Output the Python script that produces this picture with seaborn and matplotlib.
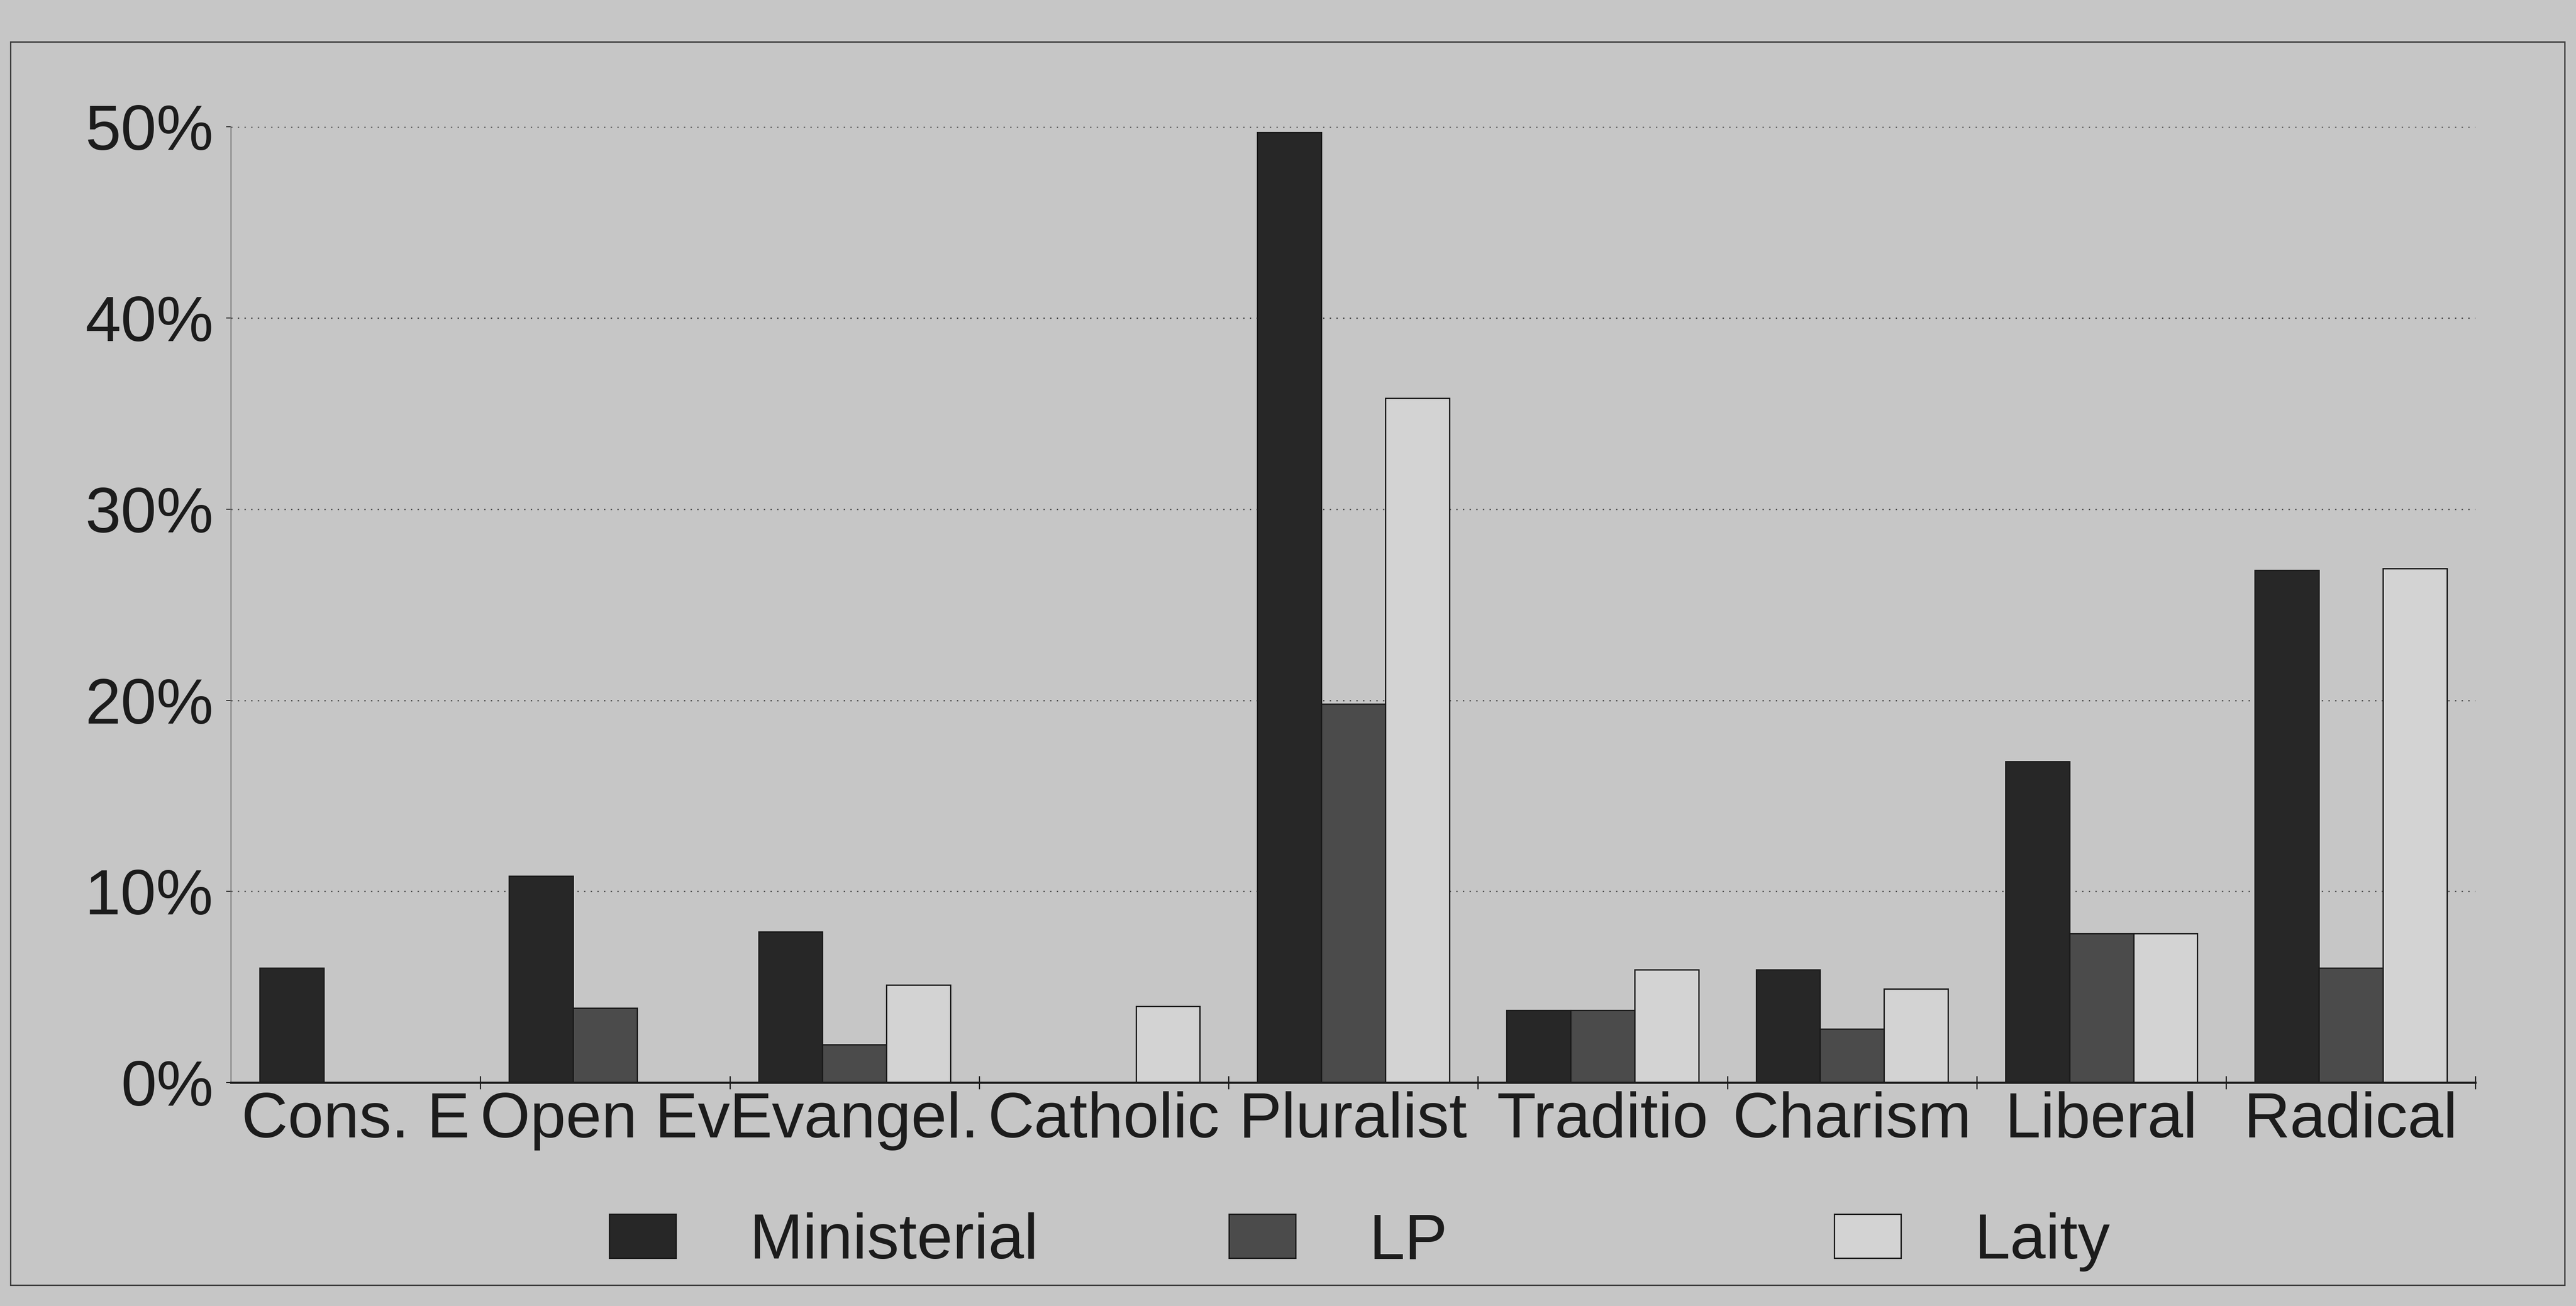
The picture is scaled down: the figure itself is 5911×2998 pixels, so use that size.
import matplotlib
matplotlib.use("Agg")
import matplotlib.pyplot as plt
from matplotlib.patches import Rectangle
from matplotlib.ticker import PercentFormatter, FixedLocator
import numpy as np
import pandas as pd
import seaborn as sns

# ---- data (percent of respondents) ----
categories = ["Cons. E", "Open Ev", "Evangel.", "Catholic", "Pluralist",
              "Traditio", "Charism", "Liberal", "Radical"]
series_names = ["Ministerial", "LP", "Laity"]
ministerial = [6.0, 10.8, 7.9, 0.0, 49.7, 3.8, 5.9, 16.8, 26.8]
lp = [0.0, 3.9, 2.0, 0.0, 19.8, 3.8, 2.8, 7.8, 6.0]
laity = [0.0, 0.0, 5.1, 4.0, 35.8, 5.9, 4.9, 7.8, 26.9]
y_ticks = [0, 10, 20, 30, 40, 50]

df = pd.DataFrame({
    "category": categories * 3,
    "group": [series_names[0]] * 9 + [series_names[1]] * 9 + [series_names[2]] * 9,
    "value": ministerial + lp + laity,
})

BG = "#c6c6c6"
INK = "#1c1c1c"
palette = {"Ministerial": "#272727", "LP": "#4b4b4b", "Laity": "#d3d3d3"}

sns.set_style("white")
plt.rcParams["font.family"] = ["Liberation Sans", "DejaVu Sans"]
plt.rcParams["text.color"] = INK
plt.rcParams["xtick.color"] = INK
plt.rcParams["ytick.color"] = INK
plt.rcParams["axes.labelcolor"] = INK

fig = plt.figure(figsize=(59.11, 29.98), dpi=100, facecolor=BG)
ax = fig.add_axes([0.0897, 0.171, 0.8713, 0.732])
ax.set_facecolor(BG)

sns.barplot(data=df, x="category", y="value", hue="group", order=categories,
            hue_order=series_names, palette=palette, saturation=1,
            width=0.77, errorbar=None, edgecolor="#1a1a1a", linewidth=2.2,
            ax=ax, zorder=3)

handles, labels = ax.get_legend_handles_labels()
if ax.get_legend() is not None:
    ax.get_legend().remove()

ax.set_xlim(-0.5, len(categories) - 0.5)
ax.set_ylim(0, 50)
ax.set_xlabel("")
ax.set_ylabel("")

# y axis: percent labels with short outward ticks
ax.yaxis.set_major_locator(FixedLocator(y_ticks))
ax.yaxis.set_major_formatter(PercentFormatter(decimals=0))
ax.tick_params(axis="y", which="major", length=8, width=1.5, pad=21,
               labelsize=106, left=True)

# x axis: labels centred on groups, ticks between groups
ax.tick_params(axis="x", which="major", length=0, pad=14, labelsize=106)
ax.set_xticks(np.arange(0.5, len(categories), 1.0), minor=True)
ax.tick_params(axis="x", which="minor", direction="inout", length=22,
               width=2, bottom=True, color=INK)

# dotted horizontal gridlines
ax.yaxis.grid(True, linestyle=(0, (1, 4)), linewidth=2.2, color="#4a4a4a",
              zorder=0)
ax.xaxis.grid(False)
ax.set_axisbelow(True)

for side in ("top", "right"):
    ax.spines[side].set_visible(False)
ax.spines["left"].set_color("#6a6a6a")
ax.spines["left"].set_linewidth(1.5)
ax.spines["bottom"].set_color(INK)
ax.spines["bottom"].set_linewidth(3.5)
ax.spines["bottom"].set_zorder(4)

# legend entries spaced evenly across the bottom
legend_x = [0.2365, 0.477, 0.712]
for h, lab, lx in zip(handles, labels, legend_x):
    fig.legend([h], [lab], loc="center left", bbox_to_anchor=(lx, 0.049),
               frameon=False, fontsize=106, handlelength=1.04,
               handleheight=0.67, handletextpad=1.15, borderaxespad=0,
               borderpad=0)

# border round the whole chart
fig.patches.append(Rectangle((0.004, 0.016), 0.9916, 0.952,
                             transform=fig.transFigure, fill=False,
                             edgecolor="#3a3a3a", linewidth=2.2))

fig.savefig("out.png", dpi=100, facecolor=BG)
